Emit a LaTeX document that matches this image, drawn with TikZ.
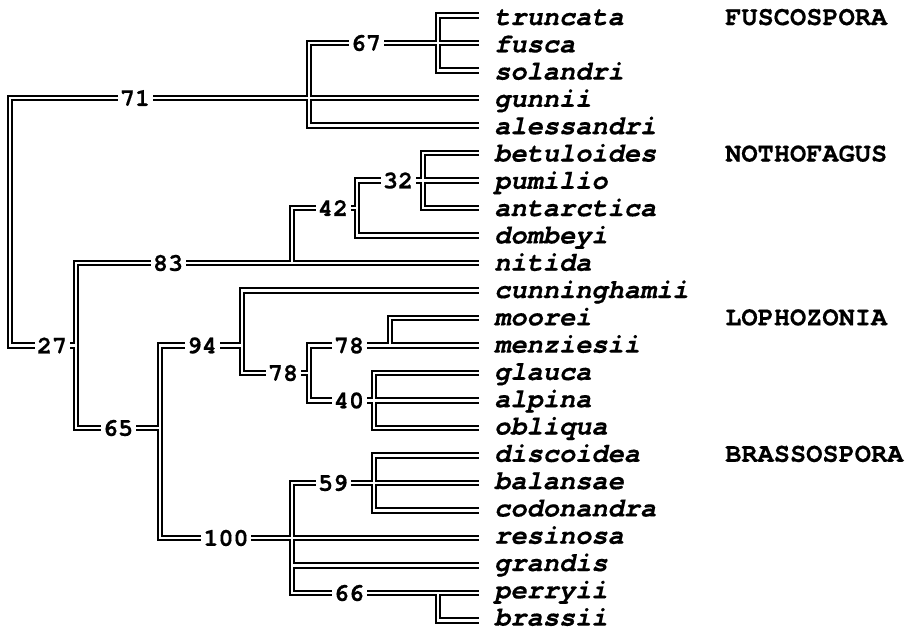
\documentclass[tikz,border=0pt]{standalone}
\usepackage{fontspec}
\newfontfamily\monof{TeX Gyre Cursor}[BoldFeatures={FakeBold=0.4},BoldItalicFeatures={FakeBold=0.4}]
\begin{document}
\begin{tikzpicture}[x=1pt,y=-1pt,
  txt/.style={font=\monof\bfseries\itshape\fontsize{27}{30}\selectfont, anchor=base west, inner sep=0pt, text depth=0pt},
  grp/.style={font=\monof\bfseries\fontsize{27}{30}\selectfont, anchor=base west, inner sep=0pt, text depth=0pt},
  bs/.style={font=\monof\bfseries\fontsize{25}{28}\selectfont, fill=white, inner xsep=2.5pt, inner ysep=1pt},
  blk/.style={line width=6.4pt, draw=black, line join=miter},
  wht/.style={line width=2.4pt, draw=white, line join=miter}
]
\useasboundingbox (0,0) rectangle (915,632);
% leaves
\foreach \nm [count=\i from 0] in {truncata,fusca,solandri,gunnii,alessandri,betuloides,pumilio,antarctica,dombeyi,nitida,cunninghamii,moorei,menziesii,glauca,alpina,obliqua,discoidea,balansae,codonandra,resinosa,grandis,perryii,brassii}{
  \coordinate (\nm) at (479,{15.5+27.5*\i});
  \node[txt] (t-\nm) at (494,{25+27.3*\i}) {\nm};
}
% internal nodes (y on leaf rows)
\coordinate (root) at (10,{15.5+27.5*8});
\coordinate (n71) at (309,{15.5+27.5*3});
\coordinate (n67) at (438,{15.5+27.5*1});
\coordinate (nA) at (76,{15.5+27.5*12});
\coordinate (n83) at (292,{15.5+27.5*9});
\coordinate (n42) at (357,{15.5+27.5*7});
\coordinate (n32) at (423,{15.5+27.5*6});
\coordinate (n65) at (160,{15.5+27.5*15});
\coordinate (n94) at (242,{15.5+27.5*12});
\coordinate (nL78) at (309,{15.5+27.5*13});
\coordinate (nU78) at (390,{15.5+27.5*12});
\coordinate (n40) at (374,{15.5+27.5*14});
\coordinate (n100) at (292,{15.5+27.5*19});
\coordinate (n59) at (374,{15.5+27.5*17});
\coordinate (n66) at (438,{15.5+27.5*21});
\newcommand\treebranches{%
  \draw[br] (root) |- (n71); \draw[br] (root) |- (nA);
  \draw[br] (n71) |- (n67); \draw[br] (n71) -- (gunnii); \draw[br] (n71) |- (alessandri);
  \draw[br] (n67) |- (truncata); \draw[br] (n67) -- (fusca); \draw[br] (n67) |- (solandri);
  \draw[br] (nA) |- (n83); \draw[br] (nA) |- (n65);
  \draw[br] (n83) |- (n42); \draw[br] (n83) -- (nitida);
  \draw[br] (n42) |- (n32); \draw[br] (n42) |- (dombeyi);
  \draw[br] (n32) |- (betuloides); \draw[br] (n32) -- (pumilio); \draw[br] (n32) |- (antarctica);
  \draw[br] (n65) |- (n94); \draw[br] (n65) |- (n100);
  \draw[br] (n94) |- (cunninghamii); \draw[br] (n94) |- (nL78);
  \draw[br] (nL78) |- (nU78); \draw[br] (nL78) |- (n40);
  \draw[br] (nU78) |- (moorei); \draw[br] (nU78) -- (menziesii);
  \draw[br] (n40) |- (glauca); \draw[br] (n40) -- (alpina); \draw[br] (n40) |- (obliqua);
  \draw[br] (n100) |- (n59); \draw[br] (n100) -- (resinosa); \draw[br] (n100) |- (grandis); \draw[br] (n100) |- (n66);
  \draw[br] (n59) |- (discoidea); \draw[br] (n59) -- (balansae); \draw[br] (n59) |- (codonandra);
  \draw[br] (n66) -- (perryii); \draw[br] (n66) |- (brassii);
}
\begin{scope}[br/.style=blk] \treebranches \end{scope}
\begin{scope}[br/.style=wht] \treebranches \end{scope}
% support values
\node[bs] (b71) at (135,{15.5+27.5*3}) {71};
\node[bs] (b67) at (366,{15.5+27.5*1}) {67};
\node[bs] (b27) at (52,{15.5+27.5*12}) {27};
\node[bs] (b83) at (168,{15.5+27.5*9}) {83};
\node[bs] (b42) at (333,{15.5+27.5*7}) {42};
\node[bs] (b32) at (398,{15.5+27.5*6}) {32};
\node[bs] (b65) at (118,{15.5+27.5*15}) {65};
\node[bs] (b94) at (202,{15.5+27.5*12}) {94};
\node[bs] (b78a) at (283,{15.5+27.5*13}) {78};
\node[bs] (b78b) at (349,{15.5+27.5*12}) {78};
\node[bs] (b40) at (349,{15.5+27.5*14}) {40};
\node[bs] (b100) at (226,{15.5+27.5*19}) {100};
\node[bs] (b59) at (333,{15.5+27.5*17}) {59};
\node[bs] (b66) at (349,{15.5+27.5*21}) {66};
% groups
\node[grp] (g1) at (725,{25+27.3*0}) {FUSCOSPORA};
\node[grp] (g2) at (725,{25+27.3*5}) {NOTHOFAGUS};
\node[grp] (g3) at (725,{25+27.3*11}) {LOPHOZONIA};
\node[grp] (g4) at (725,{25+27.3*16}) {BRASSOSPORA};
\end{tikzpicture}
\end{document}
